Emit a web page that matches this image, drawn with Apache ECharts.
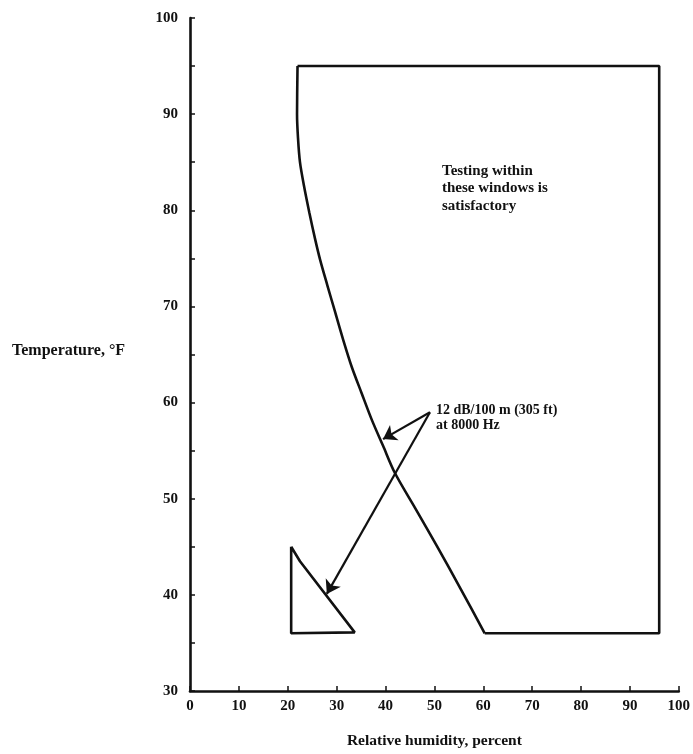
<!DOCTYPE html>
<html><head><meta charset="utf-8">
<script src="https://cdn.jsdelivr.net/npm/echarts@6/dist/echarts.min.js"></script>
<style>html,body{margin:0;padding:0;background:#fff}#c{width:693px;height:754px}</style>
</head><body><div id="c"></div>
<script>
// Axis ranges / tick labels
const xTickValues = [0, 10, 20, 30, 40, 50, 60, 70, 80, 90, 100];
const yTickValues = [30, 40, 50, 60, 70, 80, 90, 100];
// Large "satisfactory" window: curved left boundary (RH %, Temp °F), bottom to top
const curveBoundary = [[60.3, 36], [55.4, 40.6], [50.5, 45.1], [46.1, 49], [41.9, 52.7], [39.5, 55.5], [37.2, 58.2], [35.1, 61], [33.1, 63.7], [31.3, 66.6], [29.7, 69.4], [28.1, 72.2], [26.6, 74.9], [25.6, 77], [24.4, 79.8], [23.3, 82.6], [22.5, 85], [22.1, 87.5], [21.9, 90], [22, 95]];
// Large window: straight edges
const straightBoundary = [[22, 95], [96, 95], [96, 36], [60.3, 36]];
// Small window (triangle)
const smallWindow = [[20.7, 45], [22.5, 43.5], [33.7, 36.1], [20.7, 36], [20.7, 45]];
// Leader arrows
const arrowFrom = [49.1, 59.0];
const arrowTargets = [[39.5, 56.2], [28.0, 40.1]];
// Texts
const windowNote = ['Testing within', 'these windows is', 'satisfactory'];
const arrowNote = ['12 dB/100 m (305 ft)', 'at 8000 Hz'];
const xTitle = 'Relative humidity, percent';
const yTitle = 'Temperature, °F';

const FONT = '"Liberation Serif", "DejaVu Serif", serif';
const INK = '#111';
const chart = echarts.init(document.getElementById('c'), null, {renderer: 'canvas'});
const lineStyle = {color: INK, width: 2.6};
chart.setOption({
  backgroundColor: '#fff',
  animation: false,
  grid: {left: 190, right: 14, top: 18, bottom: 62, containLabel: false},
  xAxis: {
    type: 'value', min: 0, max: 100, interval: 10,
    axisLine: {show: true, lineStyle: {color: INK, width: 2.6}},
    axisTick: {show: true, inside: true, length: 5, lineStyle: {color: INK, width: 1.5}},
    axisLabel: {color: INK, fontFamily: FONT, fontWeight: 'bold', fontSize: 15, margin: 8,
      formatter: v => xTickValues.includes(v) ? String(v) : ''},
    splitLine: {show: false},
    name: xTitle, nameLocation: 'middle', nameGap: 42,
    nameTextStyle: {color: INK, fontFamily: FONT, fontWeight: 'bold', fontSize: 15.5}
  },
  yAxis: {
    type: 'value', min: 30, max: 100, interval: 10,
    axisLine: {show: true, lineStyle: {color: INK, width: 2.6}},
    axisTick: {show: true, inside: true, length: 5, lineStyle: {color: INK, width: 1.5}},
    minorTick: {show: true, splitNumber: 2, length: 5, lineStyle: {color: INK, width: 1.5}},
    axisLabel: {color: INK, fontFamily: FONT, fontWeight: 'bold', fontSize: 15, margin: 12,
      formatter: v => yTickValues.includes(v) ? String(v) : ''},
    splitLine: {show: false}
  },
  series: [
    {type: 'line', data: curveBoundary, smooth: 0.3, symbol: 'none', lineStyle, silent: true},
    {type: 'line', data: straightBoundary, symbol: 'none', lineStyle, silent: true},
    {type: 'line', data: smallWindow, symbol: 'none', lineStyle, silent: true},
    {type: 'lines', coordinateSystem: 'cartesian2d', symbol: ['none', 'arrow'], symbolSize: [10, 13],
      lineStyle: {color: INK, width: 2.2, opacity: 1, curveness: 0}, silent: true,
      data: arrowTargets.map(t => ({coords: [arrowFrom, t]}))}
  ],
  graphic: [
    {type: 'text', left: 442, top: 162, style: {text: windowNote.join('\n'), font: 'bold 15px ' + FONT, fill: INK, lineHeight: 17.5}},
    {type: 'text', left: 436, top: 403, style: {text: arrowNote.join('\n'), font: 'bold 14px ' + FONT, fill: INK, lineHeight: 15}},
    {type: 'text', left: 12, top: 343, style: {text: yTitle, font: 'bold 16px ' + FONT, fill: INK}}
  ]
});
</script></body></html>
